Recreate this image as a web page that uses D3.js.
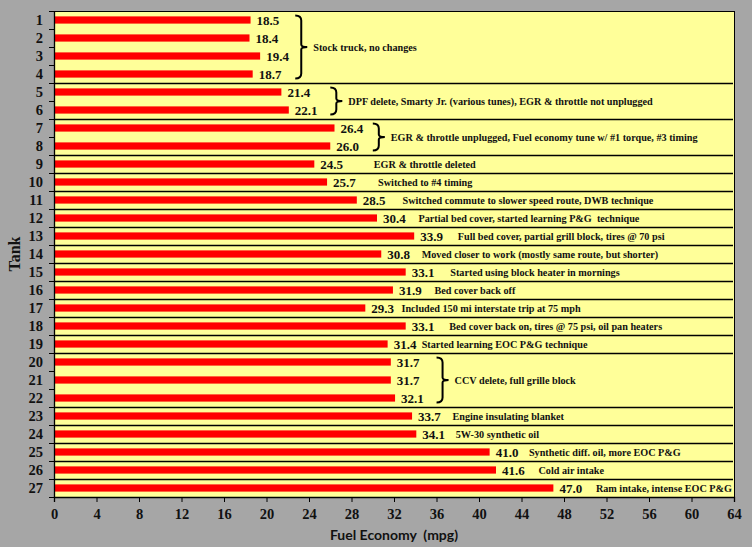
<!DOCTYPE html>
<html>
<head>
<meta charset="utf-8">
<script src="https://cdn.jsdelivr.net/npm/d3@7"></script>
<style>
  html, body { margin: 0; padding: 0; background: #a6a6a6; }
  svg { display: block; }
</style>
</head>
<body>
<svg id="chart" width="752" height="547"></svg>
<script>
// ---------- data ----------
const tanks = ["1","2","3","4","5","6","7","8","9","10","11","12","13","14","15","16","17","18","19","20","21","22","23","24","25","26","27"];
const mpg = [18.5,18.4,19.4,18.7,21.4,22.1,26.4,26.0,24.5,25.7,28.5,30.4,33.9,30.8,33.1,31.9,29.3,33.1,31.4,31.7,31.7,32.1,33.7,34.1,41.0,41.6,47.0];
const xTicks = [0,4,8,12,16,20,24,28,32,36,40,44,48,52,56,60,64];
const groupFrom = ["1","5","7","9","10","11","12","13","14","15","16","17","18","19","20","23","24","25","26","27"];
const groupTo   = ["4","6","8","9","10","11","12","13","14","15","16","17","18","19","22","23","24","25","26","27"];
const groupNotes = [
  "Stock truck, no changes",
  "DPF delete, Smarty Jr. (various tunes), EGR & throttle not unplugged",
  "EGR & throttle unplugged, Fuel economy tune w/ #1 torque, #3 timing",
  "EGR & throttle deleted",
  "Switched to #4 timing",
  "Switched commute to slower speed route, DWB technique",
  "Partial bed cover, started learning P&G  technique",
  "Full bed cover, partial grill block, tires @ 70 psi",
  "Moved closer to work (mostly same route, but shorter)",
  "Started using block heater in mornings",
  "Bed cover back off",
  "Included 150 mi interstate trip at 75 mph",
  "Bed cover back on, tires @ 75 psi, oil pan heaters",
  "Started learning EOC P&G technique",
  "CCV delete, full grille block",
  "Engine insulating blanket",
  "5W-30 synthetic oil",
  "Synthetic diff. oil, more EOC P&G",
  "Cold air intake",
  "Ram intake, intense EOC P&G"
];
// where each note starts in mpg units
const noteAnchor = [24.4,27.7,31.7,30.1,30.5,32.8,34.3,38.0,34.6,37.3,35.8,32.7,37.2,34.6,37.7,37.5,37.8,44.7,45.6,51.0];
const xTitle = "Fuel Economy  (mpg)";
const yTitle = "Tank";

// ---------- layout ----------
const svg = d3.select("#chart");
const W = 752, H = 547;
const m = {left: 54, top: 11, right: 18, bottom: 50};
const pw = W - m.left - m.right;   // 680
const ph = H - m.top - m.bottom;   // 486
const serif = "'Liberation Serif', 'Times New Roman', serif";
const ink = "#111";

svg.append("rect").attr("width", W).attr("height", H).attr("fill", "#a6a6a6");

const x = d3.scaleLinear().domain([0, 64]).range([m.left, m.left + pw]);
const y = d3.scaleBand().domain(tanks).range([m.top, m.top + ph]).padding(0);
const step = y.step();
const barH = step * 0.4;

// plot area
svg.append("rect")
  .attr("x", m.left).attr("y", m.top).attr("width", pw).attr("height", ph)
  .attr("fill", "#ffff99").attr("stroke", "#000").attr("stroke-width", 1)
  .attr("shape-rendering", "crispEdges");

// group separator lines
const seps = groupTo.slice(0, -1);
svg.append("g").selectAll("line").data(seps).join("line")
  .attr("x1", m.left + 1).attr("x2", m.left + pw - 1)
  .attr("y1", d => Math.round(y(d) + step) + 0.5)
  .attr("y2", d => Math.round(y(d) + step) + 0.5)
  .attr("stroke", "#000").attr("stroke-width", 1.3);

// bars
svg.append("g").selectAll("rect").data(tanks).join("rect")
  .attr("x", x(0))
  .attr("y", (d) => y(d) + (step - barH) / 2)
  .attr("width", (d, i) => x(mpg[i]) - x(0))
  .attr("height", barH)
  .attr("fill", "#ff0000");

// value labels
svg.append("g").selectAll("text").data(tanks).join("text")
  .attr("x", (d, i) => x(mpg[i]) + 6)
  .attr("y", d => y(d) + step / 2)
  .attr("dy", "0.35em")
  .attr("font-family", serif).attr("font-weight", "bold").attr("font-size", 13)
  .attr("fill", ink)
  .text((d, i) => mpg[i].toFixed(1));

// notes and brackets
const noteG = svg.append("g");
groupNotes.forEach((txt, i) => {
  const y0 = y(groupFrom[i]);
  const y1 = y(groupTo[i]) + step;
  const ym = (y0 + y1) / 2;
  const tx = x(noteAnchor[i]);
  noteG.append("text")
    .attr("x", tx).attr("y", ym).attr("dy", "0.35em")
    .attr("font-family", serif).attr("font-weight", "bold").attr("font-size", 10.2)
    .attr("fill", ink).style("white-space", "pre").text(txt);
  if (groupFrom[i] !== groupTo[i]) {
    const bx = tx - 18, t = y0 + 4.5, b = y1 - 4.5;
    const p = `M${bx},${t} Q${bx+6},${t} ${bx+6},${t+5} L${bx+6},${ym-2.5} Q${bx+6},${ym} ${bx+12},${ym} Q${bx+6},${ym} ${bx+6},${ym+2.5} L${bx+6},${b-5} Q${bx+6},${b} ${bx},${b}`;
    noteG.append("path").attr("d", p).attr("fill", "none")
      .attr("stroke", "#000").attr("stroke-width", 2);
  }
});

// y axis ticks (between categories)
const yTickPos = tanks.map(d => y(d)).concat([m.top + ph]);
svg.append("g").selectAll("line").data(yTickPos).join("line")
  .attr("x1", m.left - 5).attr("x2", m.left)
  .attr("y1", d => Math.round(d) + 0.5).attr("y2", d => Math.round(d) + 0.5)
  .attr("stroke", "#000").attr("stroke-width", 1);
svg.append("line")
  .attr("x1", m.left + 0.5).attr("x2", m.left + 0.5)
  .attr("y1", m.top).attr("y2", m.top + ph)
  .attr("stroke", "#000").attr("stroke-width", 1.3);

// y category labels
svg.append("g").selectAll("text").data(tanks).join("text")
  .attr("x", m.left - 11)
  .attr("y", d => y(d) + step / 2)
  .attr("dy", "0.36em")
  .attr("text-anchor", "end")
  .attr("font-family", serif).attr("font-weight", "bold").attr("font-size", 14.5)
  .attr("fill", ink)
  .text(d => d);

// x axis
const xAxis = d3.axisBottom(x).tickValues(xTicks).tickSize(5).tickPadding(7).tickFormat(d3.format("d"));
const gx = svg.append("g").attr("transform", `translate(0,${m.top + ph})`).call(xAxis);
gx.select(".domain").attr("stroke", "#000").attr("stroke-width", 1.3);
gx.selectAll(".tick line").attr("stroke", "#000");
gx.selectAll(".tick text")
  .attr("font-family", serif).attr("font-weight", "bold").attr("font-size", 14.5)
  .attr("fill", ink);

// axis titles
svg.append("text")
  .attr("x", m.left + pw / 2).attr("y", 540)
  .attr("text-anchor", "middle")
  .attr("font-family", "Lato, 'Liberation Sans', sans-serif").attr("font-weight", "bold").attr("font-size", 14)
  .attr("fill", ink)
  .style("white-space", "pre")
  .text(xTitle);
svg.append("text")
  .attr("transform", `translate(20,${m.top + ph / 2}) rotate(-90)`)
  .attr("text-anchor", "middle")
  .attr("font-family", serif).attr("font-weight", "bold").attr("font-size", 16)
  .attr("fill", ink)
  .text(yTitle);
</script>
</body>
</html>
